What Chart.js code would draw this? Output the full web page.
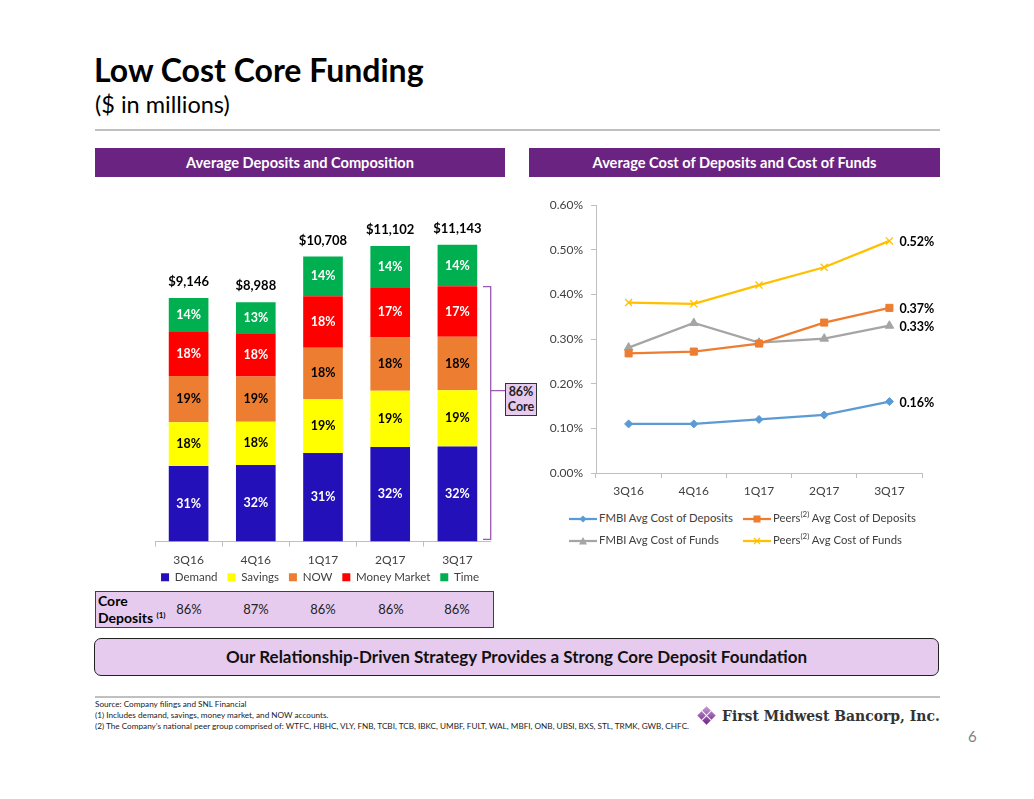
<!DOCTYPE html>
<html lang="en">
<head>
<meta charset="utf-8">
<title>Low Cost Core Funding</title>
<script src="https://cdn.jsdelivr.net/npm/chart.js@4"></script>
<style>
  body { margin: 0; background: #fff; font-family: Lato, "Open Sans", sans-serif; }
  #slide { position: relative; width: 1034px; height: 799px; overflow: hidden; }
  .abs { position: absolute; }
  #title { left: 94px; top: 50px; font-size: 32px; font-weight: bold; color: #000; }
  #subtitle { left: 95px; top: 90px; font-size: 23.5px; color: #000; }
  .rule { left: 95px; width: 845px; height: 2px; background: #c0c0c0; }
  .header { top: 148px; height: 29px; background: #6b2382; color: #fff; font-weight: bold;
            font-size: 14.6px; line-height: 29px; text-align: center; }
  #coreTable { left: 95px; top: 591px; width: 397px; height: 35px; background: #e6cbef;
               border: 1.5px solid #404040; }
  #coreTable .lbl { position: absolute; left: 2px; top: 0px; font-size: 14px; font-weight: bold; line-height: 17px; }
  #coreTable .val { position: absolute; top: 9px; font-size: 13px; width: 50px; margin-left: -25px; text-align: center; color: #222; }
  sup { font-size: 8px; vertical-align: 5px; line-height: 0; }
  #strategy { left: 94px; top: 638px; width: 843px; height: 36px; background: #e6cbef; border: 1.5px solid #222;
              border-radius: 7px; font-weight: bold; font-size: 17px; text-align: center; line-height: 36px; color: #111; }
  #bracket { left: 480px; top: 285px; width: 30px; height: 260px; }
  #coreBox { left: 505px; top: 383px; width: 30px; height: 31px; background: #e6cbef; border: 1px solid #333;
             font-size: 12.5px; font-weight: bold; text-align: center; line-height: 15px; color: #222; }
  #notes { left: 95px; top: 699px; font-size: 8.2px; line-height: 11px; color: #222; }
  #logoText { left: 722px; top: 706px; font-family: "DejaVu Serif", "Liberation Serif", serif; font-stretch: condensed;
              font-size: 15.5px; font-weight: bold; color: #333; white-space: nowrap; }
  #logoIcon { left: 700px; top: 709px; width: 13px; height: 13px; transform: rotate(45deg);
              background: linear-gradient(135deg, #c79bd6, #6b2382); }
  #logoIcon::before { content: ""; position: absolute; left: 6px; top: 0; width: 1px; height: 13px; background: #fff; }
  #logoIcon::after { content: ""; position: absolute; top: 6px; left: 0; height: 1px; width: 13px; background: #fff; }
  #pageNo { left: 968px; top: 727px; font-size: 15px; color: #7f7f7f; }
  #lineLegend { left: 560px; top: 508px; width: 380px; height: 44px; font-size: 11.3px; color: #404040; }
  .litem { position: absolute; height: 16px; line-height: 16px; white-space: nowrap; }
  .litem canvas { vertical-align: middle; margin-right: 2px; }
</style>
</head>
<body>
<div id="slide">
  <div id="title" class="abs">Low Cost Core Funding</div>
  <div id="subtitle" class="abs">($ in millions)</div>
  <div class="abs rule" style="top:129px"></div>
  <div class="abs header" style="left:95px;width:410px">Average Deposits and Composition</div>
  <div class="abs header" style="left:529px;width:411px">Average Cost of Deposits and Cost of Funds</div>

  <canvas id="barCanvas" class="abs" style="left:155px;top:200px" width="336" height="393"></canvas>
  <canvas id="lineCanvas" class="abs" style="left:530px;top:190px" width="410" height="311"></canvas>
  <div id="lineLegend" class="abs"></div>

  <svg id="bracket" class="abs" viewBox="0 0 30 260">
    <path d="M3 1.7 H10.7 V254.3 H3 M10.7 105.7 H25" fill="none" stroke="#9a58b5" stroke-width="1.3"/>
  </svg>
  <div id="coreBox" class="abs">86%<br>Core</div>

  <div id="coreTable" class="abs"><div class="lbl">Core<br>Deposits <sup>(1)</sup></div></div>

  <div id="strategy" class="abs">Our Relationship-Driven Strategy Provides a Strong Core Deposit Foundation</div>
  <div class="abs rule" style="top:696px"></div>
  <div id="notes" class="abs">Source: Company filings and SNL Financial<br>(1) Includes demand, savings, money market, and NOW accounts.<br>(2) The Company’s national peer group comprised of: WTFC, HBHC, VLY, FNB, TCBI, TCB, IBKC, UMBF, FULT, WAL, MBFI, ONB, UBSI, BXS, STL, TRMK, GWB, CHFC.</div>
  <div id="logoIcon" class="abs"></div>
  <div id="logoText" class="abs">First Midwest Bancorp, Inc.</div>
  <div id="pageNo" class="abs">6</div>
</div>

<script>
// categories
const quarters = ['3Q16', '4Q16', '1Q17', '2Q17', '3Q17'];

// average deposits ($ millions) and composition (%)
const totalDeposits = [9146, 8988, 10708, 11102, 11143];
const demandPct = [31, 32, 31, 32, 32];
const savingsPct = [18, 18, 19, 19, 19];
const nowPct = [19, 19, 18, 18, 18];
const moneyMarketPct = [18, 18, 18, 17, 17];
const timePct = [14, 13, 14, 14, 14];
const coreDepositPct = [86, 87, 86, 86, 86];

// cost of deposits / funds (%)
const fmbiCostDeposits = [0.11, 0.11, 0.12, 0.13, 0.16];
const peersCostDeposits = [0.268, 0.272, 0.29, 0.337, 0.37];
const fmbiCostFunds = [0.281, 0.336, 0.292, 0.301, 0.33];
const peersCostFunds = [0.382, 0.379, 0.421, 0.461, 0.52];
const lastLabels = ['0.16%', '0.37%', '0.33%', '0.52%'];

const FONT = 'Lato';

// core deposits row under the bars
const coreTable = document.getElementById('coreTable');
const barCenters = [188, 255, 322, 390, 456];   // lined up with the bar chart columns
coreDepositPct.forEach((v, i) => {
    const d = document.createElement('div');
    d.className = 'val';
    d.style.left = (barCenters[i] - 95) + 'px';
    d.textContent = v + '%';
    coreTable.appendChild(d);
});

// ---- stacked bar chart ----
const segments = [
    { name: 'Demand', pct: demandPct, color: '#2410b9', text: '#fff' },
    { name: 'Savings', pct: savingsPct, color: '#ffff00', text: '#000' },
    { name: 'NOW', pct: nowPct, color: '#ed7d31', text: '#000' },
    { name: 'Money Market', pct: moneyMarketPct, color: '#ff0000', text: '#fff' },
    { name: 'Time', pct: timePct, color: '#00b050', text: '#fff' }
];

const barLabels = {
    id: 'barLabels',
    afterDatasetsDraw(chart) {
        const ctx = chart.ctx;
        ctx.save();
        ctx.textAlign = 'center';
        ctx.textBaseline = 'middle';
        ctx.font = 'bold 12.5px ' + FONT;
        chart.data.datasets.forEach((ds, i) => {
            chart.getDatasetMeta(i).data.forEach((bar, j) => {
                ctx.fillStyle = segments[i].text;
                ctx.fillText(segments[i].pct[j] + '%', bar.x, (bar.y + bar.base) / 2);
            });
        });
        // totals on top
        const top = chart.getDatasetMeta(chart.data.datasets.length - 1).data;
        ctx.fillStyle = '#000';
        ctx.font = 'bold 13px ' + FONT;
        top.forEach((bar, j) => {
            ctx.fillText('$' + totalDeposits[j].toLocaleString('en-US'), bar.x, bar.y - 16);
        });
        ctx.restore();
    }
};

new Chart(document.getElementById('barCanvas'), {
    type: 'bar',
    data: {
        labels: quarters,
        datasets: segments.map(s => ({
            label: s.name,
            data: totalDeposits.map((t, j) => t * s.pct[j] / 100),
            backgroundColor: s.color,
            barPercentage: 0.59,
            categoryPercentage: 1
        }))
    },
    options: {
        responsive: false,
        animation: false,
        layout: { padding: { top: 22, left: 0, right: 0, bottom: 0 } },
        plugins: {
            legend: {
                position: 'bottom',
                labels: {
                    boxWidth: 8, boxHeight: 8, padding: 4, color: '#404040',
                    font: { family: FONT, size: 11.5 },
                    // a bit of space after each name, the padding is kept small for the height
                    generateLabels: c => Chart.defaults.plugins.legend.labels.generateLabels(c)
                        .map(l => Object.assign(l, { text: l.text + '  ' }))
                }
            },
            tooltip: { enabled: false }
        },
        scales: {
            x: {
                stacked: true,
                grid: { drawOnChartArea: false, offset: true, tickLength: 5, color: '#bfbfbf' },
                border: { color: '#bfbfbf' },
                ticks: { color: '#404040', padding: 6, font: { family: FONT, size: 12 } },
                afterFit: s => { s.height = 26; }
            },
            y: { stacked: true, display: false, min: 0, max: 12000 }
        }
    },
    plugins: [barLabels]
});

// ---- line chart ----
const lines = [
    { name: 'FMBI Avg Cost of Deposits', data: fmbiCostDeposits, color: '#5b9bd5', point: 'rectRot', r: 4 },
    { name: 'Peers<sup>(2)</sup> Avg Cost of Deposits', data: peersCostDeposits, color: '#ed7d31', point: 'rect', r: 5 },
    { name: 'FMBI Avg Cost of Funds', data: fmbiCostFunds, color: '#a5a5a5', point: 'triangle', r: 5 },
    { name: 'Peers<sup>(2)</sup> Avg Cost of Funds', data: peersCostFunds, color: '#ffc000', point: 'crossRot', r: 5 }
];

const endLabels = {
    id: 'endLabels',
    afterDatasetsDraw(chart) {
        const ctx = chart.ctx;
        ctx.save();
        ctx.font = 'bold 12.5px ' + FONT;
        ctx.fillStyle = '#000';
        ctx.textAlign = 'left';
        ctx.textBaseline = 'middle';
        chart.data.datasets.forEach((ds, i) => {
            const pts = chart.getDatasetMeta(i).data;
            const p = pts[pts.length - 1];
            ctx.fillText(lastLabels[i], p.x + 10, p.y + 1);
        });
        ctx.restore();
    }
};

new Chart(document.getElementById('lineCanvas'), {
    type: 'line',
    data: {
        labels: quarters,
        datasets: lines.map(l => ({
            label: l.name,
            data: l.data,
            borderColor: l.color,
            backgroundColor: l.color,
            borderWidth: 2.25,
            pointStyle: l.point,
            pointRadius: l.r,
            pointBorderWidth: l.point === 'crossRot' ? 1.3 : 1,
            tension: 0
        }))
    },
    options: {
        responsive: false,
        animation: false,
        layout: { padding: { top: 13, right: 18, left: 0, bottom: 0 } },
        plugins: { legend: { display: false }, tooltip: { enabled: false } },
        scales: {
            x: {
                offset: true,
                grid: { drawOnChartArea: false, offset: true, tickLength: 5, color: '#bfbfbf' },
                border: { color: '#bfbfbf' },
                ticks: { color: '#404040', padding: 6, font: { family: FONT, size: 12 } },
                afterFit: s => { s.height = 28; }
            },
            y: {
                min: 0, max: 0.6,
                grid: { drawOnChartArea: false, tickLength: 5, color: '#bfbfbf' },
                border: { color: '#bfbfbf' },
                ticks: { stepSize: 0.1, color: '#404040', padding: 8, font: { family: FONT, size: 12 },
                         callback: v => v.toFixed(2) + '%' },
                afterFit: s => { s.width = 66; }
            }
        }
    },
    plugins: [endLabels]
});

// legend for the line chart, 2 x 2
const legendBox = document.getElementById('lineLegend');
const legendPos = [[9, 2], [183, 2], [9, 24], [183, 24]];
lines.forEach((l, i) => {
    const item = document.createElement('div');
    item.className = 'litem';
    item.style.left = legendPos[i][0] + 'px';
    item.style.top = legendPos[i][1] + 'px';
    const c = document.createElement('canvas');
    c.width = 28; c.height = 12;
    const g = c.getContext('2d');
    g.strokeStyle = l.color; g.fillStyle = l.color; g.lineWidth = 2.25;
    g.beginPath(); g.moveTo(0, 6); g.lineTo(28, 6); g.stroke();
    g.lineWidth = 1.2;
    g.beginPath();
    if (l.point === 'rectRot') { g.moveTo(14, 2.5); g.lineTo(17.5, 6); g.lineTo(14, 9.5); g.lineTo(10.5, 6); g.closePath(); g.fill(); }
    else if (l.point === 'rect') { g.fillRect(10.5, 2.5, 7, 7); }
    else if (l.point === 'triangle') { g.moveTo(14, 2); g.lineTo(18, 9.5); g.lineTo(10, 9.5); g.closePath(); g.fill(); }
    else { g.moveTo(11, 3); g.lineTo(17, 9); g.moveTo(17, 3); g.lineTo(11, 9); g.stroke(); }
    item.appendChild(c);
    const t = document.createElement('span');
    t.innerHTML = l.name;
    item.appendChild(t);
    legendBox.appendChild(item);
});
</script>
</body>
</html>
